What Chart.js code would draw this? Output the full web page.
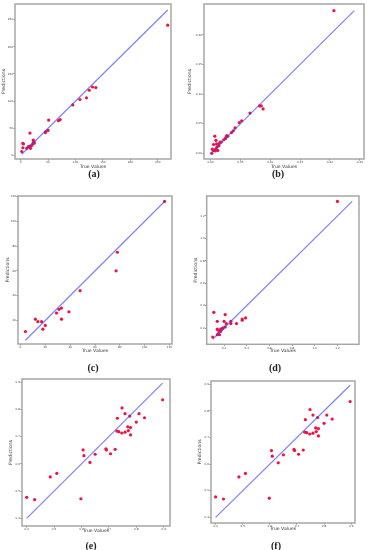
<!DOCTYPE html>
<html>
<head>
<meta charset="utf-8">
<script src="https://cdn.jsdelivr.net/npm/chart.js@4.4.1/dist/chart.umd.min.js"></script>
<style>
html, body { margin: 0; padding: 0; background: #fff; }
body { position: relative; width: 368px; height: 550px; overflow: hidden; }
canvas { position: absolute; }
.cap { position: absolute; font: bold 10px "Liberation Serif", serif; color: #222; transform: translate(-50%, -50%); white-space: nowrap; }
</style>
</head>
<body>
<script>
// (a)
const aTrue = [268, 137, 131, 125, 120, 108, 95, 72, 69, 51, 50, 46, 45, 17, 4, 5, 4, 2, 11, 14, 17, 18, 20, 23, 24, 23, 25, 22];
const aPred = [240, 125, 126, 120, 106, 103, 93, 66, 64, 65, 46, 44, 42, 41, 22, 21, 14, 7, 13, 16, 17, 13, 18, 22, 25, 28, 23, 21];
const aTicks = [0, 50, 100, 150, 200, 250];

// (b)
const bTrue = [0.2066, 0.082, 0.085, 0.088, 0.066, 0.052, 0.048, 0.041, 0.038, 0.035, 0.029, 0.026, 0.027, 0.025, 0.022,
  0.016, 0.014, 0.007, 0.009, 0.005, 0.003, 0.002, 0.005, 0.009, 0.011, 0.012, 0.014, 0.010, 0.018, 0.008];
const bPred = [0.2407, 0.080, 0.080, 0.075, 0.068, 0.055, 0.052, 0.043, 0.038, 0.035, 0.029, 0.027, 0.030, 0.025, 0.023,
  0.019, 0.016, 0.029, 0.022, 0.015, 0.007, 0.000, 0.005, 0.008, 0.011, 0.005, 0.013, 0.016, 0.019, 0.004];
const bTicks = [0, 0.05, 0.10, 0.15, 0.20, 0.25];

// (c)
const cTrue = [116, 78, 77, 48, 39, 33, 31, 29, 33, 20, 18, 17, 14, 12, 4];
const cPred = [116, 75, 60, 44, 27, 30, 29, 26, 21, 16, 13, 19, 19, 21, 11];
const cXTicks = [0, 20, 40, 60, 80, 100, 120];
const cYTicks = [20, 40, 60, 80, 100, 120];

// (d)
const dTrue = [1.20, 0.39, 0.36, 0.36, 0.31, 0.26, 0.26, 0.22, 0.21, 0.20, 0.21, 0.19, 0.18, 0.17, 0.15, 0.14, 0.14, 0.15,
  0.16, 0.14, 0.11, 0.10, 0.19, 0.17];
const dPred = [1.33, 0.29, 0.28, 0.27, 0.24, 0.26, 0.24, 0.24, 0.32, 0.26, 0.21, 0.20, 0.19, 0.19, 0.18, 0.26, 0.19, 0.15,
  0.14, 0.14, 0.34, 0.12, 0.20, 0.17];
const dTicks = [0.2, 0.4, 0.6, 0.8, 1.0, 1.2];

// (e) and (f) show the same test set
const eTrue = [0.896, 0.748, 0.759, 0.776, 0.810, 0.830, 0.731, 0.800, 0.769, 0.779, 0.771, 0.729, 0.736, 0.759, 0.747,
  0.779, 0.606, 0.689, 0.691, 0.723, 0.609, 0.650, 0.706, 0.631, 0.510, 0.486, 0.400, 0.429, 0.598];
const ePred = [0.835, 0.805, 0.784, 0.775, 0.784, 0.769, 0.767, 0.753, 0.736, 0.733, 0.722, 0.720, 0.718, 0.716, 0.713,
  0.706, 0.651, 0.655, 0.651, 0.653, 0.630, 0.635, 0.637, 0.605, 0.565, 0.552, 0.477, 0.469, 0.472];
const eTicks = [0.4, 0.5, 0.6, 0.7, 0.8, 0.9];
const fTrue = eTrue;
const fPred = ePred;

const panels = [
  { id: "(a)", xs: aTrue, ys: aPred, xt: aTicks, yt: aTicks, dec: 0, frame: [15, 2, 172, 159], yTitleX: 4, xTitleY: 167,
    xr: [-10.3, 274], yr: [-6.7, 279], cap: [94, 173] },
  { id: "(b)", xs: bTrue, ys: bPred, xt: bTicks, yt: bTicks.slice(0, 5), dec: 2, frame: [204, 2, 366.5, 159], yTitleX: 190, xTitleY: 167,
    xr: [-0.011, 0.257], yr: [-0.0095, 0.252], cap: [278, 173] },
  { id: "(c)", xs: cTrue, ys: cPred, xt: cXTicks, yt: cYTicks, dec: 0, frame: [18, 194.5, 172.5, 344], yTitleX: 7.3, xTitleY: 350.7,
    xr: [-2, 122], yr: [1, 120.4], cap: [93, 367] },
  { id: "(d)", xs: dTrue, ys: dPred, xt: dTicks, yt: dTicks, dec: 1, frame: [206.7, 194.3, 359.7, 344.3], yTitleX: 196, xTitleY: 350.7,
    xr: [0.047, 1.39], yr: [0.055, 1.378], cap: [275, 367] },
  { id: "(e)", xs: eTrue, ys: ePred, xt: eTicks, yt: eTicks, dec: 1, frame: [22, 377.7, 170.7, 526], yTitleX: 10.5, xTitleY: 531,
    xr: [0.383, 0.923], yr: [0.372, 0.911], cap: [91, 545] },
  { id: "(f)", xs: fTrue, ys: fPred, xt: eTicks, yt: eTicks, dec: 1, frame: [211, 379, 356, 523], yTitleX: 199.5, xTitleY: 529,
    xr: [0.383, 0.914], yr: [0.379, 0.912], cap: [276, 545] }
];

// light grey box round the plot area, like the matplotlib spines
const framePlugin = {
  id: "frame",
  afterDraw(chart) {
    const { ctx, chartArea: a } = chart;
    ctx.save();
    ctx.strokeStyle = "#a6a6a6";
    ctx.lineWidth = 1.5;
    ctx.strokeRect(a.left, a.top, a.right - a.left, a.bottom - a.top);
    ctx.restore();
  }
};

const titleFont = { family: "DejaVu Sans", size: 4.6 };
const tickFont = { family: "DejaVu Sans", size: 2.8 };
const lh = titleFont.size * 1.2;

panels.forEach(p => {
  const [l, t, r, b] = p.frame;
  const left = Math.max(0, Math.floor(p.yTitleX - lh / 2 - 0.5));
  const top = Math.max(0, Math.floor(t) - 2);
  const right = Math.min(368, Math.ceil(r) + 3);
  const bottom = Math.ceil(p.xTitleY + lh / 2 + 0.5);
  const yW = l - left, xH = bottom - b;

  const cv = document.createElement("canvas");
  cv.width = right - left;
  cv.height = bottom - top;
  cv.style.left = left + "px";
  cv.style.top = top + "px";
  document.body.appendChild(cv);

  const cap = document.createElement("div");
  cap.className = "cap";
  cap.textContent = p.id;
  cap.style.left = p.cap[0] + "px";
  cap.style.top = p.cap[1] + "px";
  document.body.appendChild(cap);

  const all = p.xs.concat(p.ys);
  const lo = Math.min(...all), hi = Math.max(...all);
  const pts = p.xs.map((x, i) => ({ x: x, y: p.ys[i] }));

  const axis = (ticks, range, title, fit, titlePad) => ({
    type: "linear",
    min: range[0],
    max: range[1],
    afterBuildTicks: s => { s.ticks = ticks.map(v => ({ value: v })); },
    afterFit: fit,
    grid: { display: true, drawOnChartArea: false, drawTicks: true, tickLength: 1.5, color: "#555", lineWidth: 0.8 },
    border: { display: false },
    ticks: { font: tickFont, color: "#444", padding: 0.5, maxRotation: 0, callback: v => Number(v).toFixed(p.dec) },
    title: { display: true, text: title, font: titleFont, color: "#333", padding: titlePad }
  });

  new Chart(cv, {
    type: "scatter",
    data: {
      datasets: [
        {
          type: "line",
          data: [{ x: lo, y: lo }, { x: hi, y: hi }],
          borderColor: "rgba(60,60,255,0.65)",
          borderWidth: 1.2,
          pointRadius: 0,
          showLine: true,
          order: 0
        },
        {
          data: pts,
          backgroundColor: "#ee1144",
          borderWidth: 0,
          pointRadius: 1.6,
          order: 1
        }
      ]
    },
    options: {
      responsive: false,
      animation: false,
      events: [],
      layout: { padding: { left: 0, top: t - top, right: right - r, bottom: 0 } },
      plugins: { legend: { display: false }, tooltip: { enabled: false } },
      scales: {
        x: axis(p.xt, p.xr, "True Values", s => { s.height = xH; },
          { top: 0, bottom: bottom - p.xTitleY - lh / 2 }),
        y: axis(p.yt, p.yr, "Predictions", s => { s.width = yW; },
          { top: p.yTitleX - lh / 2 - left, bottom: 0 })
      }
    },
    plugins: [framePlugin]
  });
});
</script>
</body>
</html>
